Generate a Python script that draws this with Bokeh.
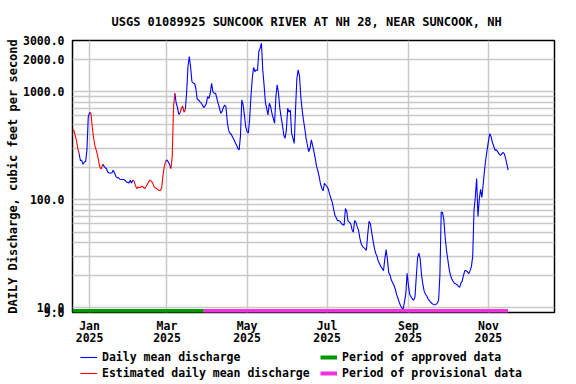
import datetime as dt
from bokeh.plotting import figure
from bokeh.layouts import column
from bokeh.models import (Range1d, FixedTicker, PrintfTickFormatter, Legend,
                          LegendItem, CustomJSTickFormatter)
from bokeh.embed import file_html
from bokeh.resources import INLINE

# ---------------- data ----------------
TITLE = "USGS 01089925 SUNCOOK RIVER AT NH 28, NEAR SUNCOOK, NH"
Y_LABEL = "DAILY Discharge, cubic feet per second"
START_DATE = "2024-12-19"
DISCHARGE = [
    450, 442, 396, 356, 300, 270, 232, 232, 213, 224, 226, 290, 586,
    640, 640, 480, 380, 320, 290, 262, 226, 198, 194,
    214, 205, 198, 193, 180, 177, 177, 177, 188, 178,
    165, 160, 161, 155, 154, 154, 154, 152, 146, 145,
    143, 152, 143, 152, 148, 135, 127, 131, 130, 131,
    134, 130, 127, 132, 139, 146, 152, 149, 144, 133,
    129, 127, 124, 122, 122, 130, 170, 205, 228, 234,
    224, 212, 195, 250, 730, 973, 790, 720, 620, 640,
    706, 740, 648, 690, 1000, 1720, 2130, 1700, 1250, 1204,
    1204, 1082, 860, 843, 814, 790, 757, 716, 740, 780,
    906, 870, 973, 1204, 1000, 973, 973, 874, 785, 706,
    634, 660, 720, 757, 720, 520, 440, 414, 405, 380,
    362, 340, 322, 300, 290, 390, 843, 757, 612, 477,
    430, 414, 560, 906, 1340, 1685, 1546, 1600, 1580, 2370,
    2545, 2829, 1600, 1162, 800, 700, 612, 785, 732, 634,
    570, 512, 906, 1162, 973, 706, 580, 494, 399, 372,
    444, 706, 650, 680, 414, 372, 334, 700, 1340, 1600,
    1403, 900, 681, 550, 460, 372, 322, 280, 300, 359,
    320, 280, 242, 205, 185, 164, 140, 128, 121, 142,
    137, 132, 125, 112, 103, 94, 82, 72, 68, 64,
    64, 63, 60, 59, 58, 83, 78, 63, 62, 60,
    53, 50, 64, 62, 56, 52, 44, 39, 37, 36,
    35, 34, 48, 63, 60, 50, 42, 36, 32, 30,
    27, 25.5, 24, 23, 22, 28, 34.5, 28, 21, 20,
    18, 17, 16, 14.8, 13.2, 12.2, 11.2, 10.4, 9.9, 9.7,
    11.3, 13.4, 20.8, 16, 13.2, 12.6, 12.0, 11.7, 12.5, 19.3,
    29, 32, 28, 20, 16.5, 14.2, 13.3, 12.8, 12.0, 11.6,
    11.2, 10.9, 10.7, 10.6, 10.7, 11.0, 11.7, 20, 77, 76,
    65, 45, 34, 28, 23, 20, 18.5, 17.5, 16.8, 16.6,
    16.3, 15.8, 15.4, 16.8, 17.6, 20, 22, 22, 21.5, 20.6,
    22, 24, 30, 80, 106, 157, 70, 100, 125, 105,
    140, 188, 240, 290, 350, 410, 385, 340, 315, 288,
    290, 280, 268, 259, 264, 275, 268, 245, 215, 188,
]
ESTIMATED_PERIODS = [
    ("2024-12-19", "2024-12-24"),
    ("2025-01-02", "2025-01-11"),
    ("2025-02-03", "2025-02-28"),
    ("2025-03-04", "2025-03-07"),
    ("2025-03-11", "2025-03-15"),
]
APPROVED_PERIOD = ("2024-12-19", "2025-03-29")
PROVISIONAL_PERIOD = ("2025-03-29", "2025-11-16")
X_TICKS = ["2025-01-01", "2025-03-01", "2025-05-01", "2025-07-01", "2025-09-01", "2025-11-01"]
X_RANGE = ("2024-12-19", "2025-12-21")
Y_RANGE = (9, 3000)
Y_LABEL_TICKS = [9, 10, 100, 1000, 2000, 3000]
Y_GRID_TICKS = [9] + [m * 10 ** e for e in (1, 2) for m in range(1, 10)] + [1000, 2000, 3000]
LEGEND_LABELS = ["Daily mean discharge", "Estimated daily mean discharge",
                 "Period of approved data", "Period of provisional data"]

# ---------------- styling ----------------
FONT = "DejaVu Sans Mono"
BLUE, RED, GREEN, MAGENTA = "#0000ff", "#ff0000", "#009900", "#ee33dd"
GRID = "#c8c8c8"
BAR_LEVEL = 9.3
W = 576


def d(s):
    return dt.datetime.strptime(s, "%Y-%m-%d")


def ms(s):
    return (d(s) - dt.datetime(1970, 1, 1)).total_seconds() * 1000.0


start = d(START_DATE)
dates = [start + dt.timedelta(days=i) for i in range(len(DISCHARGE))]
periods = [(d(a), d(b)) for a, b in ESTIMATED_PERIODS]


def seg_est(i):
    a, b = dates[i], dates[i + 1]
    return any(p0 <= a and b <= p1 for p0, p1 in periods)


runs = {True: ([], []), False: ([], [])}
cur_flag, cur_x, cur_y = None, [], []
for i in range(len(dates) - 1):
    f = seg_est(i)
    if f != cur_flag:
        if cur_flag is not None:
            runs[cur_flag][0].append(cur_x)
            runs[cur_flag][1].append(cur_y)
        cur_flag, cur_x, cur_y = f, [dates[i]], [DISCHARGE[i]]
    cur_x.append(dates[i + 1])
    cur_y.append(DISCHARGE[i + 1])
runs[cur_flag][0].append(cur_x)
runs[cur_flag][1].append(cur_y)


def draw_series(fig):
    rb = fig.multi_line(runs[False][0], runs[False][1], line_color=BLUE, line_width=1.1)
    rr = fig.multi_line(runs[True][0], runs[True][1], line_color=RED, line_width=1.1)
    ra = fig.line([d(APPROVED_PERIOD[0]), d(APPROVED_PERIOD[1])], [BAR_LEVEL, BAR_LEVEL],
                  line_color=GREEN, line_width=4, line_cap="butt")
    rp = fig.line([d(PROVISIONAL_PERIOD[0]), d(PROVISIONAL_PERIOD[1])], [BAR_LEVEL, BAR_LEVEL],
                  line_color=MAGENTA, line_width=4, line_cap="butt")
    return rb, rr, ra, rp


p = figure(width=W, height=350, x_axis_type="datetime", y_axis_type="log",
           x_range=Range1d(d(X_RANGE[0]), d(X_RANGE[1]) + dt.timedelta(hours=8)),
           y_range=Range1d(*Y_RANGE),
           output_backend="svg", toolbar_location=None,
           min_border_left=72, min_border_right=22, min_border_top=40, min_border_bottom=38)
p.background_fill_color = "white"
p.border_fill_color = "white"
p.outline_line_color = "black"
p.outline_line_width = 1.5

# title
p.title.text = TITLE
p.title.align = "left"
p.title.offset = 39
p.title.text_font = FONT
p.title.text_font_size = "12px"
p.title.text_font_style = "bold"
p.title.text_color = "black"
p.title.standoff = 24

# grids
p.xgrid.ticker = FixedTicker(ticks=[ms(t) for t in X_TICKS])
p.ygrid.ticker = FixedTicker(ticks=Y_GRID_TICKS)
for g in (p.xgrid, p.ygrid):
    g.grid_line_color = GRID
    g.grid_line_width = 1.5

# axes
xa = p.xaxis[0]
xa.ticker = FixedTicker(ticks=[ms(t) for t in X_TICKS])
xa.formatter = CustomJSTickFormatter(code="""
const m = ["Jan","Feb","Mar","Apr","May","Jun","Jul","Aug","Sep","Oct","Nov","Dec"];
const dd = new Date(tick);
return m[dd.getUTCMonth()] + "\\n" + dd.getUTCFullYear();
""")
ya = p.yaxis[0]
ya.ticker = FixedTicker(ticks=Y_LABEL_TICKS, minor_ticks=[])
ya.formatter = PrintfTickFormatter(format="%.1f")
ya.axis_label = Y_LABEL
ya.axis_label_standoff = 0
ya.axis_label_text_font = FONT
ya.axis_label_text_font_size = "12px"
ya.axis_label_text_font_style = "bold"
ya.axis_label_text_color = "black"
for ax in (xa, ya):
    ax.axis_line_color = None
    ax.major_tick_line_color = None
    ax.minor_tick_line_color = None
    ax.major_tick_out = 0
    ax.major_tick_in = 0
    ax.minor_tick_out = 0
    ax.major_label_text_font = FONT
    ax.major_label_text_font_size = "11.5px"
    ax.major_label_text_font_style = "bold"
    ax.major_label_text_color = "black"
ya.major_label_standoff = 8
xa.major_label_standoff = 6
xa.major_label_text_line_height = 0.9

r_blue, r_red, r_app, r_prov = draw_series(p)

# legend strip below the chart: the same series, drawn outside its own view
lg = figure(width=W, height=34, x_range=Range1d(0, 1), y_range=Range1d(0, 1),
            output_backend="svg", toolbar_location=None,
            x_axis_location=None, y_axis_location=None,
            min_border_left=0, min_border_right=0, min_border_top=0, min_border_bottom=0)
lg.outline_line_color = None
lg.grid.visible = False
l_blue, l_red, l_app, l_prov = draw_series(lg)
legend = Legend(items=[
    LegendItem(label=LEGEND_LABELS[0], renderers=[l_blue]),
    LegendItem(label=LEGEND_LABELS[2], renderers=[l_app]),
    LegendItem(label=LEGEND_LABELS[1], renderers=[l_red]),
    LegendItem(label=LEGEND_LABELS[3], renderers=[l_prov]),
], orientation="horizontal", ncols=2, location=(8, 4),
    padding=0, margin=0, spacing=2, glyph_width=17, glyph_height=14,
    label_height=14, label_width=216, label_standoff=5,
    label_text_font=FONT, label_text_font_size="11.5px", label_text_font_style="bold",
    label_text_color="black", border_line_color=None, background_fill_alpha=0)
lg.add_layout(legend)

open("out.html", "w").write(file_html(column(p, lg, spacing=0), INLINE))
